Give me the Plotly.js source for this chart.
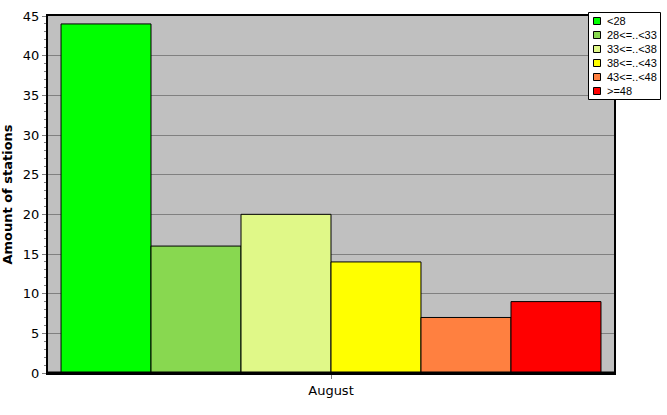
<!DOCTYPE html>
<html>
<head>
<meta charset="utf-8">
<script src="https://cdn.plot.ly/plotly-3.0.1.min.js"></script>
<style>html,body{margin:0;padding:0;background:#fff;}#chart{width:667px;height:415px;}</style>
</head>
<body>
<div id="chart"></div>
<script>
var categories = ["August"];
var seriesNames = ["<28", "28<=..<33", "33<=..<38", "38<=..<43", "43<=..<48", ">=48"];
var seriesValues = [[44], [16], [20], [14], [7], [9]];
var seriesColors = ["#00ff00", "#88d850", "#e0f888", "#ffff00", "#ff8040", "#ff0000"];
var yTickValues = [0, 5, 10, 15, 20, 25, 30, 35, 40, 45];

var W = 667, H = 415;
var M = { l: 48, r: 53, t: 16, b: 42 };
var plotW = W - M.l - M.r, plotH = H - M.t - M.b;
function px(x) { return (x - M.l) / plotW; }
function py(y) { return (H - M.b - y) / plotH; }

var traces = seriesNames.map(function (name, i) {
  return {
    type: "bar",
    name: name,
    x: categories,
    y: seriesValues[i],
    marker: { color: seriesColors[i], line: { color: "#000000", width: 1 } },
    hoverinfo: "none",
    showlegend: false
  };
});

// Custom legend box (drawn to match the reference legend layout)
var shapes = [{
  type: "line", xref: "paper", yref: "paper", layer: "above",
  x0: 0, x1: 1, y0: 0, y1: 0,
  line: { color: "#000000", width: 3 }
}, {
  type: "rect", xref: "paper", yref: "paper", layer: "above",
  x0: px(588.5), x1: px(660.5), y0: py(12.5), y1: py(99.5),
  fillcolor: "#ffffff", line: { color: "#000000", width: 1 }
}];
var annotations = [];
seriesNames.forEach(function (name, i) {
  var cy = 21 + i * 14;
  shapes.push({
    type: "rect", xref: "paper", yref: "paper", layer: "above",
    x0: px(593.5), x1: px(600.5), y0: py(cy - 3.5), y1: py(cy + 3.5),
    fillcolor: seriesColors[i], line: { color: "#000000", width: 1 }
  });
  annotations.push({
    xref: "paper", yref: "paper", x: px(605), y: py(cy),
    xanchor: "left", yanchor: "middle", showarrow: false,
    text: name.replace(/</g, "&lt;"),
    font: { family: "Liberation Sans, Arial, sans-serif", size: 11, color: "#000" }
  });
});

var layout = {
  width: W,
  height: H,
  margin: { l: M.l, r: M.r, t: M.t, b: M.b, pad: 0 },
  paper_bgcolor: "#ffffff",
  plot_bgcolor: "#c0c0c0",
  font: { family: "DejaVu Sans, sans-serif", size: 13, color: "#000000" },
  barmode: "group",
  bargap: 0.046,
  bargroupgap: 0,
  showlegend: false,
  shapes: shapes,
  annotations: annotations,
  xaxis: {
    type: "category",
    range: [-0.5, 0.5],
    showgrid: false,
    showline: true, linecolor: "#000000", linewidth: 2, mirror: true,
    ticks: "outside", ticklen: 4, tickcolor: "#808080",
    zeroline: false,
    automargin: false,
    fixedrange: true
  },
  yaxis: {
    range: [0, 45],
    tickmode: "array",
    tickvals: yTickValues,
    ticktext: yTickValues.map(String),
    showgrid: true, gridcolor: "#808080", gridwidth: 1,
    showline: true, linecolor: "#000000", linewidth: 2, mirror: true,
    ticks: "outside", ticklen: 4, tickcolor: "#808080",
    minor: { dtick: 1, ticks: "outside", ticklen: 2, tickcolor: "#808080", showgrid: false },
    zeroline: false,
    automargin: false,
    title: { text: "Amount of stations", font: { family: "DejaVu Sans, sans-serif", size: 13, color: "#000", weight: "bold" }, standoff: 7 },
    fixedrange: true
  }
};

Plotly.newPlot("chart", traces, layout, { displayModeBar: false, staticPlot: true });
</script>
</body>
</html>
